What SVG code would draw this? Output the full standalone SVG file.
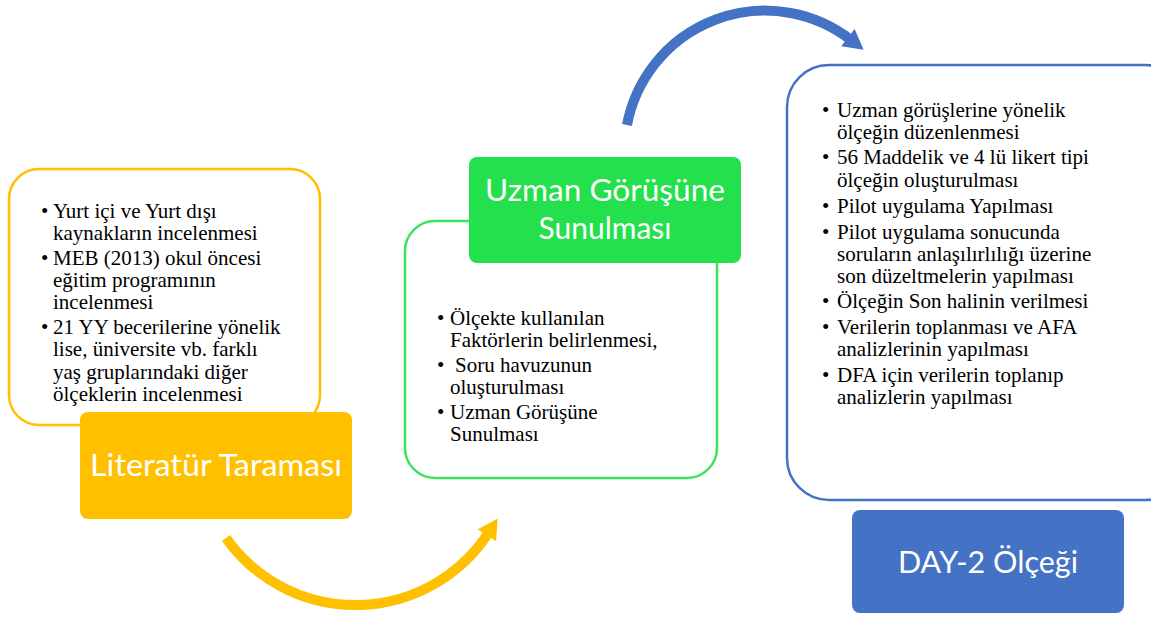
<svg xmlns="http://www.w3.org/2000/svg" width="1151" height="619" viewBox="0 0 1151 619">
<style>
.bul{font-family:"Liberation Serif","Times New Roman",serif;font-size:21px;fill:#000}
.hdr{font-family:Lato,"Open Sans",sans-serif;fill:#fff;text-anchor:middle}
</style>
<defs>
<marker id="ahY" markerUnits="userSpaceOnUse" markerWidth="24" markerHeight="24" refX="4" refY="11" orient="auto"><path d="M0,0 L20,11 L0,22 z" fill="#FFC000"/></marker>
<marker id="ahB" markerUnits="userSpaceOnUse" markerWidth="24" markerHeight="24" refX="4" refY="11" orient="auto"><path d="M0,0 L20,11 L0,22 z" fill="#4472C4"/></marker>
</defs>
<rect width="1151" height="619" fill="#fff"/>
<g id="connectors" fill="none" stroke-width="10">
<path d="M 226 538 A 158.6 158.6 0 0 0 489 532" stroke="#FFC000" marker-end="url(#ahY)"/>
<path d="M 627 125 A 140.5 140.5 0 0 1 851 40" stroke="#4472C4" marker-end="url(#ahB)"/>
</g>
<g id="literatur">
<rect x="9" y="169" width="311" height="256" rx="30" fill="#fff" stroke="#FFC000" stroke-width="2.5"/>
<text class="bul"><tspan x="41" y="218">•</tspan><tspan x="53" y="218">Yurt içi ve Yurt dışı</tspan><tspan x="53" y="240">kaynakların incelenmesi</tspan><tspan x="41" y="265">•</tspan><tspan x="53" y="265">MEB (2013) okul öncesi</tspan><tspan x="53" y="287">eğitim programının</tspan><tspan x="53" y="309">incelenmesi</tspan><tspan x="41" y="334">•</tspan><tspan x="53" y="334">21 YY becerilerine yönelik</tspan><tspan x="53" y="356">lise, üniversite vb. farklı</tspan><tspan x="53" y="379">yaş gruplarındaki diğer</tspan><tspan x="53" y="401">ölçeklerin incelenmesi</tspan></text>
<rect x="80" y="412" width="272" height="107" rx="8" fill="#FFC000"/>
<text class="hdr" x="216" y="476" font-size="31" textLength="252" lengthAdjust="spacingAndGlyphs">Literatür Taraması</text>
</g>
<g id="uzman">
<rect x="405" y="221" width="312" height="257" rx="30" fill="#fff" stroke="#3EE35E" stroke-width="2.5"/>
<text class="bul"><tspan x="437" y="325">•</tspan><tspan x="450" y="325">Ölçekte kullanılan</tspan><tspan x="450" y="347">Faktörlerin belirlenmesi,</tspan><tspan x="437" y="372">•</tspan><tspan x="455" y="372">Soru havuzunun</tspan><tspan x="450" y="394">oluşturulması</tspan><tspan x="437" y="419">•</tspan><tspan x="450" y="419">Uzman Görüşüne</tspan><tspan x="450" y="441">Sunulması</tspan></text>
<rect x="469" y="157" width="272" height="106" rx="8" fill="#23E04C"/>
<text class="hdr" font-size="30"><tspan x="605" y="201" textLength="240" lengthAdjust="spacingAndGlyphs">Uzman Görüşüne</tspan><tspan x="605" y="239">Sunulması</tspan></text>
</g>
<g id="day2">
<rect x="787" y="65" width="400" height="435" rx="42" fill="#fff" stroke="#4472C4" stroke-width="2.5"/>
<text class="bul"><tspan x="822" y="117">•</tspan><tspan x="837" y="117">Uzman görüşlerine yönelik</tspan><tspan x="837" y="139">ölçeğin düzenlenmesi</tspan><tspan x="822" y="164">•</tspan><tspan x="837" y="164">56 Maddelik ve 4 lü likert tipi</tspan><tspan x="837" y="187">ölçeğin oluşturulması</tspan><tspan x="822" y="213">•</tspan><tspan x="837" y="213">Pilot uygulama Yapılması</tspan><tspan x="822" y="239">•</tspan><tspan x="837" y="239">Pilot uygulama sonucunda</tspan><tspan x="837" y="261">soruların anlaşılırlılığı üzerine</tspan><tspan x="837" y="283">son düzeltmelerin yapılması</tspan><tspan x="822" y="308">•</tspan><tspan x="837" y="308">Ölçeğin Son halinin verilmesi</tspan><tspan x="822" y="334">•</tspan><tspan x="837" y="334">Verilerin toplanması ve AFA</tspan><tspan x="837" y="356">analizlerinin yapılması</tspan><tspan x="822" y="382">•</tspan><tspan x="837" y="382">DFA için verilerin toplanıp</tspan><tspan x="837" y="404">analizlerin yapılması</tspan></text>
<rect x="852" y="510" width="272" height="103" rx="8" fill="#4472C4"/>
<text class="hdr" x="988" y="573" font-size="31" textLength="180" lengthAdjust="spacingAndGlyphs">DAY-2 Ölçeği</text>
</g>
</svg>
